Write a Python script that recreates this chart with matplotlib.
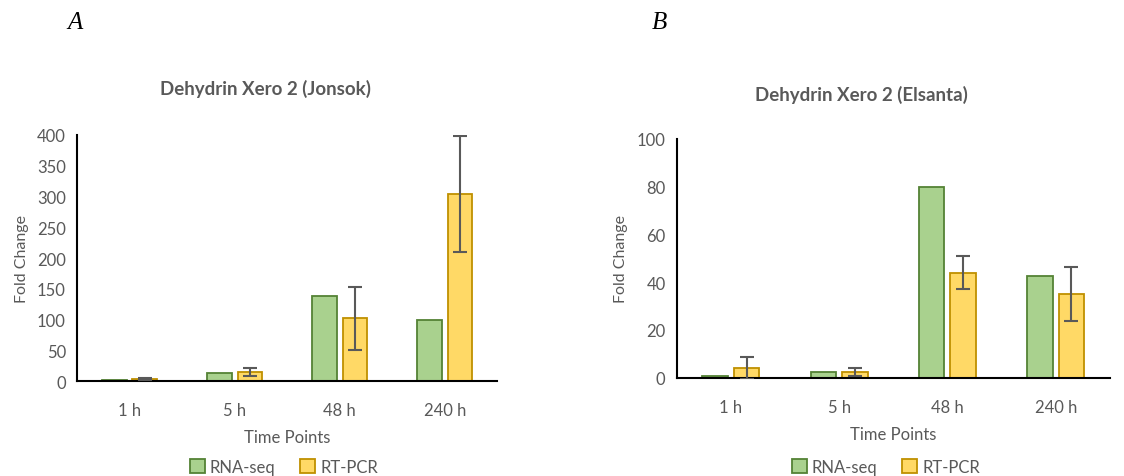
import numpy as np
import matplotlib.pyplot as plt

plt.rcParams['font.family'] = ['Lato', 'DejaVu Sans']

times = ['1 h', '5 h', '48 h', '240 h']
series = ['RNA-seq', 'RT-PCR']

# Jonsok
jon_rna = [1.5, 12.5, 138, 100]
jon_pcr = [3, 14.5, 102, 304]
jon_err = [1.5, 6, 51, 94]

# Elsanta
els_rna = [0.7, 2.4, 80, 42.7]
els_pcr = [4, 2.4, 44, 35.2]
els_err = [4.5, 1.5, 7, 11.3]

green, green_edge = '#A9D18E', '#548235'
yellow, yellow_edge = '#FFD966', '#BF9000'
grey = '#595959'


def draw(ax, rna, pcr, err, ymax, step, legend_x):
    x = np.arange(len(times))
    w = 0.235
    off = 0.145
    ax.bar(x - off, rna, w, color=green, edgecolor=green_edge, linewidth=1.3, label=series[0], zorder=2)
    ax.bar(x + off, pcr, w, color=yellow, edgecolor=yellow_edge, linewidth=1.3, label=series[1], zorder=2)
    ax.errorbar(x + off, pcr, yerr=err, fmt='none', ecolor=grey, elinewidth=1.5, capsize=5, capthick=1.5, zorder=3)
    ax.set_xlim(-0.5, len(times) - 0.5)
    ax.set_ylim(0, ymax)
    ax.set_yticks(np.arange(0, ymax + 1, step))
    ax.set_xticks(x)
    ax.set_xticklabels(times)
    ax.tick_params(axis='both', length=0, labelsize=12, colors=grey, pad=8)
    ax.tick_params(axis='x', pad=15)
    for s in ['top', 'right']:
        ax.spines[s].set_visible(False)
    for s in ['left', 'bottom']:
        ax.spines[s].set_linewidth(1.5)
        ax.spines[s].set_color('black')
    ax.set_xlabel('Time Points', fontsize=12, color=grey, labelpad=8)
    ax.set_ylabel('Fold Change', fontsize=11.5, color=grey, labelpad=6)
    h, l = ax.get_legend_handles_labels()
    fig.legend(h, l, loc='center', bbox_to_anchor=(legend_x, 1 - 468 / 477), ncol=2, frameon=False,
               fontsize=12, labelcolor=grey, handlelength=0.9, handleheight=0.9,
               handletextpad=0.3, columnspacing=1.5)


fig = plt.figure(figsize=(11.24, 4.77), dpi=100)
ax1 = fig.add_axes([0.0685, 0.199, 0.374, 0.516])
ax2 = fig.add_axes([0.602, 0.206, 0.3855, 0.5005])

draw(ax1, jon_rna, jon_pcr, jon_err, 400, 50, 284 / 1124)
draw(ax2, els_rna, els_pcr, els_err, 100, 20, 886 / 1124)

fig.text(266 / 1124, 1 - 89 / 477, 'Dehydrin Xero 2 (Jonsok)', ha='center', va='center',
         fontsize=13.5, fontweight='bold', color=grey)
fig.text(861 / 1124, 1 - 95 / 477, 'Dehydrin Xero 2 (Elsanta)', ha='center', va='center',
         fontsize=13.5, fontweight='bold', color=grey)
fig.text(67 / 1124, 1 - 23 / 477, 'A', fontsize=18, style='italic', family='Liberation Serif', va='center')
fig.text(652 / 1124, 1 - 23 / 477, 'B', fontsize=18, style='italic', family='Liberation Serif', va='center')

fig.savefig('out.png', dpi=100)
